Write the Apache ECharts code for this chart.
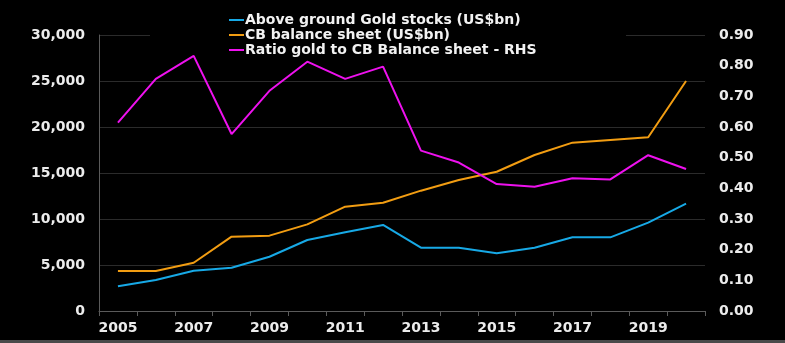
<!DOCTYPE html>
<html>
<head>
<meta charset="utf-8">
<script src="https://cdn.jsdelivr.net/npm/echarts@6/dist/echarts.min.js"></script>
<style>
  html, body { margin: 0; padding: 0; background: #000; }
  #chart { width: 785px; height: 343px; }
</style>
</head>
<body>
<div id="chart"></div>
<script>
// Years on the category axis
const years = ['2005','2006','2007','2008','2009','2010','2011','2012',
               '2013','2014','2015','2016','2017','2018','2019','2020'];

// Above ground gold stocks, US$bn
const goldStocks = [2680, 3370, 4380, 4710, 5900, 7720, 8550, 9350,
                    6880, 6880, 6270, 6880, 8010, 8010, 9600, 11660];

// Central bank balance sheets, US$bn
const cbBalance = [4350, 4350, 5250, 8080, 8190, 9420, 11340, 11770,
                   13080, 14240, 15140, 16960, 18300, 18590, 18880, 25000];

// Ratio of gold stocks to CB balance sheets (right-hand axis)
const ratio = [0.614, 0.757, 0.832, 0.577, 0.718, 0.813, 0.757, 0.797,
               0.523, 0.484, 0.414, 0.405, 0.433, 0.429, 0.508, 0.463];

const seriesNames = ['Above ground Gold stocks (US$bn)',
                     'CB balance sheet (US$bn)',
                     'Ratio gold to CB Balance sheet - RHS'];

const FONT = 'DejaVu Sans';
const labelStyle = { color: '#ececec', fontFamily: FONT, fontWeight: 'bold', fontSize: 14 };

const chart = echarts.init(document.getElementById('chart'), null, { renderer: 'canvas' });

chart.setOption({
  backgroundColor: '#000',
  animation: false,
  grid: { left: 99, right: 80, top: 35, bottom: 32, containLabel: false },
  legend: {
    orient: 'vertical',
    left: 224,
    top: 8,
    itemGap: 1,
    itemWidth: 15,
    itemHeight: 2,
    icon: 'rect',
    textStyle: { color: '#f2f2f2', fontFamily: FONT, fontWeight: 'bold', fontSize: 14, lineHeight: 14, padding: [0, 0, 0, -4] },
    data: seriesNames
  },
  graphic: [
    // legend area sits over the top gridline
    { type: 'rect', z: 1, shape: { x: 150, y: 30, width: 476, height: 10 }, style: { fill: '#000' } },
    // thin grey strip along the bottom edge
    { type: 'rect', z: 1, shape: { x: 0, y: 340, width: 785, height: 3 }, style: { fill: '#4a4a4a' } }
  ],
  xAxis: {
    type: 'category',
    data: years,
    boundaryGap: true,
    axisLine: { show: true, lineStyle: { color: '#5a5a5a', width: 1 } },
    axisTick: { show: true, interval: 0, length: 5, lineStyle: { color: '#5a5a5a' } },
    axisLabel: { interval: 1, margin: 10, ...labelStyle },
    splitLine: { show: false }
  },
  yAxis: [
    {
      type: 'value',
      min: 0, max: 30000, interval: 5000,
      axisLine: { show: true, lineStyle: { color: '#5a5a5a' } },
      axisTick: { show: false },
      axisLabel: {
        margin: 14, ...labelStyle,
        formatter: v => v.toLocaleString('en-US')
      },
      splitLine: { show: true, lineStyle: { color: '#2b2b2b', width: 1 } }
    },
    {
      type: 'value',
      min: 0, max: 0.9, interval: 0.1,
      axisLine: { show: false },
      axisTick: { show: false },
      axisLabel: { margin: 14, ...labelStyle, formatter: v => v.toFixed(2) },
      splitLine: { show: false }
    }
  ],
  series: [
    {
      name: seriesNames[0], type: 'line', yAxisIndex: 0, data: goldStocks,
      symbol: 'none', lineStyle: { color: '#17a9e6', width: 2 }, itemStyle: { color: '#17a9e6' }, z: 3
    },
    {
      name: seriesNames[1], type: 'line', yAxisIndex: 0, data: cbBalance,
      symbol: 'none', lineStyle: { color: '#f29d12', width: 2 }, itemStyle: { color: '#f29d12' }, z: 3
    },
    {
      name: seriesNames[2], type: 'line', yAxisIndex: 1, data: ratio,
      symbol: 'none', lineStyle: { color: '#ee11ee', width: 2 }, itemStyle: { color: '#ee11ee' }, z: 3
    }
  ]
});
</script>
</body>
</html>
